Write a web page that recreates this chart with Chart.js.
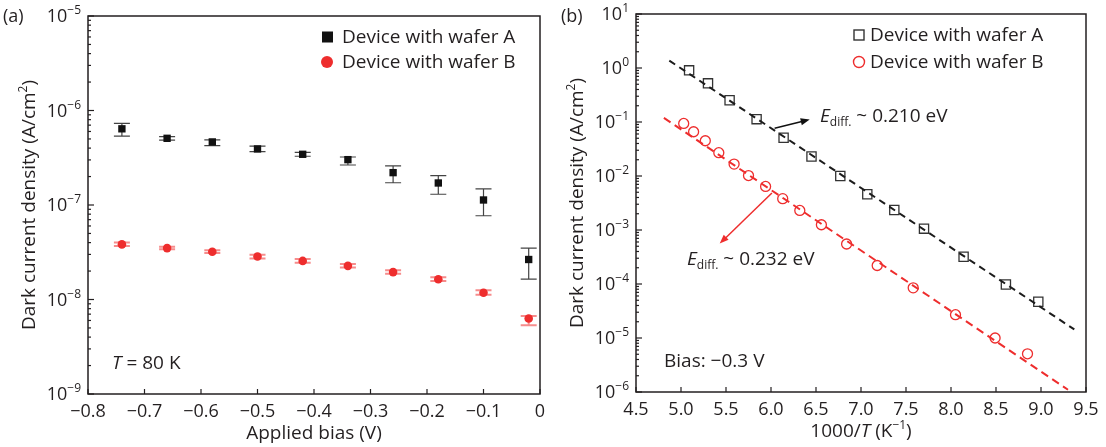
<!DOCTYPE html>
<html>
<head>
<meta charset="utf-8">
<script src="https://cdn.jsdelivr.net/npm/chart.js@4.4.1/dist/chart.umd.min.js"></script>
<style>
  html, body { margin: 0; padding: 0; background: #fff; }
  #wrap { position: relative; width: 1106px; height: 447px; }
  #wrap canvas { position: absolute; top: 0; }
</style>
</head>
<body>
<div id="wrap">
  <canvas id="biasChart" width="553" height="447" style="left:0"></canvas>
  <canvas id="tempChart" width="553" height="447" style="left:553px"></canvas>
</div>
<script>
// (a) dark current density vs applied bias, T = 80 K
const biasV = [-0.74, -0.66, -0.58, -0.50, -0.42, -0.34, -0.26, -0.18, -0.10, -0.02];
const waferA = [6.4e-7, 5.08e-7, 4.65e-7, 3.92e-7, 3.44e-7, 3.02e-7, 2.2e-7, 1.71e-7, 1.13e-7, 2.65e-8];
const waferAHi = [7.3e-7, 5.3e-7, 4.9e-7, 4.2e-7, 3.6e-7, 3.22e-7, 2.6e-7, 2.05e-7, 1.48e-7, 3.5e-8];
const waferALo = [5.35e-7, 4.85e-7, 4.25e-7, 3.67e-7, 3.28e-7, 2.65e-7, 1.72e-7, 1.30e-7, 7.7e-8, 1.64e-8];
const waferB = [3.83e-8, 3.5e-8, 3.2e-8, 2.85e-8, 2.56e-8, 2.27e-8, 1.95e-8, 1.64e-8, 1.18e-8, 6.3e-9];
const waferBHi = [4.0e-8, 3.62e-8, 3.32e-8, 2.97e-8, 2.68e-8, 2.37e-8, 2.04e-8, 1.72e-8, 1.25e-8, 6.7e-9];
const waferBLo = [3.68e-8, 3.4e-8, 3.1e-8, 2.72e-8, 2.45e-8, 2.18e-8, 1.87e-8, 1.57e-8, 1.12e-8, 5.35e-9];
const biasTicks = [-0.8, -0.7, -0.6, -0.5, -0.4, -0.3, -0.2, -0.1, 0];
const biasTickLabels = ['\u22120.8', '\u22120.7', '\u22120.6', '\u22120.5', '\u22120.4', '\u22120.3', '\u22120.2', '\u22120.1', '0'];
const biasDecades = [-9, -8, -7, -6, -5];

// (b) Arrhenius plot at -0.3 V
const invTA = [5.09, 5.30, 5.54, 5.84, 6.14, 6.45, 6.77, 7.07, 7.37, 7.70, 8.14, 8.61, 8.97];
const jA = [0.905, 0.52, 0.253, 0.113, 0.051, 0.023, 0.0100, 0.0046, 0.00235, 0.00106, 0.00032, 0.000098, 0.000047];
const invTB = [5.03, 5.14, 5.27, 5.42, 5.59, 5.75, 5.94, 6.13, 6.32, 6.56, 6.84, 7.18, 7.58, 8.05, 8.49, 8.85];
const jB = [0.094, 0.066, 0.045, 0.027, 0.0166, 0.0102, 0.0064, 0.0038, 0.0023, 0.00125, 0.00055, 0.00022, 0.000085, 0.000027, 0.00001, 0.0000051];
const fitAX = [4.87, 9.37];
const fitAY = [1.37, 1.44e-5];
const fitBX = [4.81, 9.30];
const fitBY = [0.119, 1.1e-6];
const invTTicks = [4.5, 5.0, 5.5, 6.0, 6.5, 7.0, 7.5, 8.0, 8.5, 9.0, 9.5];
const invTTickLabels = ['4.5', '5.0', '5.5', '6.0', '6.5', '7.0', '7.5', '8.0', '8.5', '9.0', '9.5'];
const invTDecades = [-6, -5, -4, -3, -2, -1, 0, 1];
const arrowA = [[6.04, 0.0764], [6.43, 0.111]];
const arrowB = [[6.01, 0.00484], [5.43, 0.00056]];

const FONT = '"Open Sans", "Liberation Sans", sans-serif';
const FS = 18;   // tick labels
const TS = 19;   // titles, legend, notes
const RED = '#ee2d2d';

function setFont(ctx, size, italic) {
    ctx.font = (italic ? 'italic ' : '') + size + 'px ' + FONT;
}

function partSize(p, size) {
    return (p.sup || p.sub) ? Math.round(size * 0.64) : size;
}

function richText(ctx, parts, x, y, size, align) {
    let w = 0;
    parts.forEach(p => { setFont(ctx, partSize(p, size), p.it); w += ctx.measureText(p.t).width; });
    let cx = align === 'center' ? x - w / 2 : align === 'right' ? x - w : x;
    ctx.textAlign = 'left';
    ctx.textBaseline = 'alphabetic';
    parts.forEach(p => {
        setFont(ctx, partSize(p, size), p.it);
        const dy = p.sup ? -size * 0.42 : p.sub ? size * 0.22 : 0;
        ctx.fillText(p.t, cx, y + dy);
        cx += ctx.measureText(p.t).width;
    });
}

function drawMarker(ctx, kind, x, y) {
    ctx.save();
    ctx.lineWidth = 1.4;
    if (kind === 'fillSquare') {
        ctx.fillStyle = '#111';
        ctx.fillRect(x - 5.5, y - 5.5, 11, 11);
    } else if (kind === 'fillCircle') {
        ctx.fillStyle = RED;
        ctx.beginPath(); ctx.arc(x, y, 6, 0, Math.PI * 2); ctx.fill();
    } else if (kind === 'openSquare') {
        ctx.strokeStyle = '#333';
        ctx.strokeRect(x - 5, y - 5, 10, 10);
    } else {
        ctx.strokeStyle = RED;
        ctx.beginPath(); ctx.arc(x, y, 5.5, 0, Math.PI * 2); ctx.stroke();
    }
    ctx.restore();
}

const framePlugin = {
    id: 'frame',
    afterDraw(chart, args, o) {
        const ctx = chart.ctx;
        const a = chart.chartArea;
        const xs = chart.scales.x, ys = chart.scales.y;
        ctx.save();
        ctx.strokeStyle = '#231f20';
        ctx.fillStyle = '#231f20';
        ctx.lineWidth = 1.5;
        ctx.strokeRect(a.left, a.top, a.right - a.left, a.bottom - a.top);

        // x ticks, pointing inward
        ctx.lineWidth = 1.2;
        o.xTicks.forEach((v, i) => {
            const px = xs.getPixelForValue(v);
            ctx.beginPath(); ctx.moveTo(px, a.bottom); ctx.lineTo(px, a.bottom - 5); ctx.stroke();
            setFont(ctx, FS);
            ctx.textAlign = 'center';
            ctx.textBaseline = 'alphabetic';
            ctx.fillText(o.xLabels[i], px, a.bottom + 23);
        });

        // log y ticks: decades + minors
        o.decades.forEach((e, i) => {
            const py = ys.getPixelForValue(Math.pow(10, e));
            ctx.beginPath(); ctx.moveTo(a.left, py); ctx.lineTo(a.left + 6, py); ctx.stroke();
            const lab = [{ t: '10' }, { t: e < 0 ? '\u2212' + (-e) : String(e), sup: true }];
            richText(ctx, lab, a.left - 7, py + 6, FS, 'right');
            if (i < o.decades.length - 1) {
                for (let m = 2; m <= 9; m++) {
                    const pm = ys.getPixelForValue(m * Math.pow(10, e));
                    ctx.beginPath(); ctx.moveTo(a.left, pm); ctx.lineTo(a.left + 3, pm); ctx.stroke();
                }
            }
        });

        // axis titles
        richText(ctx, o.xTitle, (a.left + a.right) / 2, a.bottom + 45, TS, 'center');
        ctx.save();
        ctx.translate(o.yTitleX, (a.top + a.bottom) / 2);
        ctx.rotate(-Math.PI / 2);
        richText(ctx, o.yTitle, 0, 0, TS, 'center');
        ctx.restore();

        // panel label and notes
        setFont(ctx, FS);
        ctx.textAlign = 'left';
        ctx.fillText(o.panel, o.panelX, 22);
        o.notes.forEach(n => richText(ctx, n.parts, n.x, n.y, TS, 'left'));

        // legend
        o.legend.forEach(l => {
            drawMarker(ctx, l.marker, l.mx, l.y - 6);
            richText(ctx, [{ t: l.text }], l.tx, l.y, TS, 'left');
        });

        // arrows
        (o.arrows || []).forEach(ar => {
            const x0 = xs.getPixelForValue(ar.pts[0][0]), y0 = ys.getPixelForValue(ar.pts[0][1]);
            const x1 = xs.getPixelForValue(ar.pts[1][0]), y1 = ys.getPixelForValue(ar.pts[1][1]);
            const ang = Math.atan2(y1 - y0, x1 - x0);
            ctx.strokeStyle = ar.color;
            ctx.fillStyle = ar.color;
            ctx.lineWidth = 1.5;
            ctx.beginPath(); ctx.moveTo(x0, y0);
            ctx.lineTo(x1 - 6 * Math.cos(ang), y1 - 6 * Math.sin(ang)); ctx.stroke();
            ctx.beginPath();
            ctx.moveTo(x1, y1);
            ctx.lineTo(x1 - 9 * Math.cos(ang) + 3.5 * Math.sin(ang), y1 - 9 * Math.sin(ang) - 3.5 * Math.cos(ang));
            ctx.lineTo(x1 - 9 * Math.cos(ang) - 3.5 * Math.sin(ang), y1 - 9 * Math.sin(ang) + 3.5 * Math.cos(ang));
            ctx.closePath(); ctx.fill();
        });
        ctx.restore();
    }
};

const errorBarPlugin = {
    id: 'errorBars',
    beforeDatasetsDraw(chart, args, o) {
        const ctx = chart.ctx;
        const xs = chart.scales.x, ys = chart.scales.y;
        ctx.save();
        o.sets.forEach(s => {
            ctx.strokeStyle = s.color;
            ctx.lineWidth = s.width;
            s.x.forEach((v, i) => {
                const px = xs.getPixelForValue(v);
                const ph = ys.getPixelForValue(s.hi[i]), pl = ys.getPixelForValue(s.lo[i]);
                ctx.beginPath();
                ctx.moveTo(px, ph); ctx.lineTo(px, pl);
                ctx.moveTo(px - 8, ph); ctx.lineTo(px + 8, ph);
                ctx.moveTo(px - 8, pl); ctx.lineTo(px + 8, pl);
                ctx.stroke();
            });
        });
        ctx.restore();
    }
};

function hiddenAxis(extra) {
    return Object.assign({
        ticks: { display: false },
        grid: { display: false },
        border: { display: false }
    }, extra);
}

function pts(xArr, yArr) {
    return xArr.map((x, i) => ({ x: x, y: yArr[i] }));
}

new Chart(document.getElementById('biasChart'), {
    type: 'scatter',
    data: {
        datasets: [{
            label: 'Device with wafer A',
            data: pts(biasV, waferA),
            pointStyle: 'rect',
            pointRadius: 5.2,
            backgroundColor: '#111',
            borderColor: '#111',
            borderWidth: 0
        }, {
            label: 'Device with wafer B',
            data: pts(biasV, waferB),
            pointStyle: 'circle',
            pointRadius: 4.3,
            backgroundColor: RED,
            borderColor: RED,
            borderWidth: 0
        }]
    },
    options: {
        responsive: false,
        animation: false,
        layout: { padding: { left: 88, right: 13, top: 16, bottom: 53 } },
        plugins: {
            legend: { display: false },
            tooltip: { enabled: false },
            errorBars: {
                sets: [
                    { x: biasV, hi: waferAHi, lo: waferALo, color: '#444', width: 1.2 },
                    { x: biasV, hi: waferBHi, lo: waferBLo, color: 'rgba(238,45,45,0.55)', width: 2 }
                ]
            },
            frame: {
                xTicks: biasTicks,
                xLabels: biasTickLabels,
                decades: biasDecades,
                xTitle: [{ t: 'Applied bias (V)' }],
                yTitle: [{ t: 'Dark current density (A/cm' }, { t: '2', sup: true }, { t: ')' }],
                yTitleX: 35,
                panel: '(a)',
                panelX: 3,
                notes: [{ parts: [{ t: 'T', it: true }, { t: ' = 80 K' }], x: 112, y: 369 }],
                legend: [
                    { marker: 'fillSquare', mx: 327.5, tx: 342, y: 43, text: 'Device with wafer A' },
                    { marker: 'fillCircle', mx: 327, tx: 342, y: 68, text: 'Device with wafer B' }
                ]
            }
        },
        scales: {
            x: hiddenAxis({ type: 'linear', min: -0.8, max: 0, afterFit: s => { s.height = 0; } }),
            y: hiddenAxis({ type: 'logarithmic', min: 1e-9, max: 1e-5, afterFit: s => { s.width = 0; } })
        }
    },
    plugins: [errorBarPlugin, framePlugin]
});

new Chart(document.getElementById('tempChart'), {
    type: 'scatter',
    data: {
        datasets: [{
            label: 'fit A',
            data: pts(fitAX, fitAY),
            showLine: true,
            pointRadius: 0,
            borderColor: '#1c1c1c',
            borderWidth: 2,
            borderDash: [7, 5]
        }, {
            label: 'fit B',
            data: pts(fitBX, fitBY),
            showLine: true,
            pointRadius: 0,
            borderColor: RED,
            borderWidth: 2,
            borderDash: [8, 5]
        }, {
            label: 'Device with wafer A',
            data: pts(invTA, jA),
            pointStyle: 'rect',
            pointRadius: 6.5,
            backgroundColor: 'rgba(0,0,0,0)',
            borderColor: '#333',
            borderWidth: 1.3
        }, {
            label: 'Device with wafer B',
            data: pts(invTB, jB),
            pointStyle: 'circle',
            pointRadius: 5,
            backgroundColor: 'rgba(0,0,0,0)',
            borderColor: RED,
            borderWidth: 1.3
        }]
    },
    options: {
        responsive: false,
        animation: false,
        layout: { padding: { left: 83, right: 20, top: 14, bottom: 55 } },
        plugins: {
            legend: { display: false },
            tooltip: { enabled: false },
            frame: {
                xTicks: invTTicks,
                xLabels: invTTickLabels,
                decades: invTDecades,
                xTitle: [{ t: '1000/' }, { t: 'T', it: true }, { t: ' (K' }, { t: '\u22121', sup: true }, { t: ')' }],
                yTitle: [{ t: 'Dark current density (A/cm' }, { t: '2', sup: true }, { t: ')' }],
                yTitleX: 30,
                panel: '(b)',
                panelX: 8,
                notes: [
                    { parts: [{ t: 'Bias: \u22120.3 V' }], x: 111, y: 367 },
                    { parts: [{ t: 'E', it: true }, { t: 'diff.', sub: true }, { t: ' ~ 0.210 eV' }], x: 267, y: 122 },
                    { parts: [{ t: 'E', it: true }, { t: 'diff.', sub: true }, { t: ' ~ 0.232 eV' }], x: 134, y: 265 }
                ],
                legend: [
                    { marker: 'openSquare', mx: 306, tx: 317, y: 41, text: 'Device with wafer A' },
                    { marker: 'openCircle', mx: 306, tx: 317, y: 68, text: 'Device with wafer B' }
                ],
                arrows: [
                    { pts: arrowA, color: '#111' },
                    { pts: arrowB, color: RED }
                ]
            }
        },
        scales: {
            x: hiddenAxis({ type: 'linear', min: 4.5, max: 9.5, afterFit: s => { s.height = 0; } }),
            y: hiddenAxis({ type: 'logarithmic', min: 1e-6, max: 10, afterFit: s => { s.width = 0; } })
        }
    },
    plugins: [framePlugin]
});
</script>
</body>
</html>
